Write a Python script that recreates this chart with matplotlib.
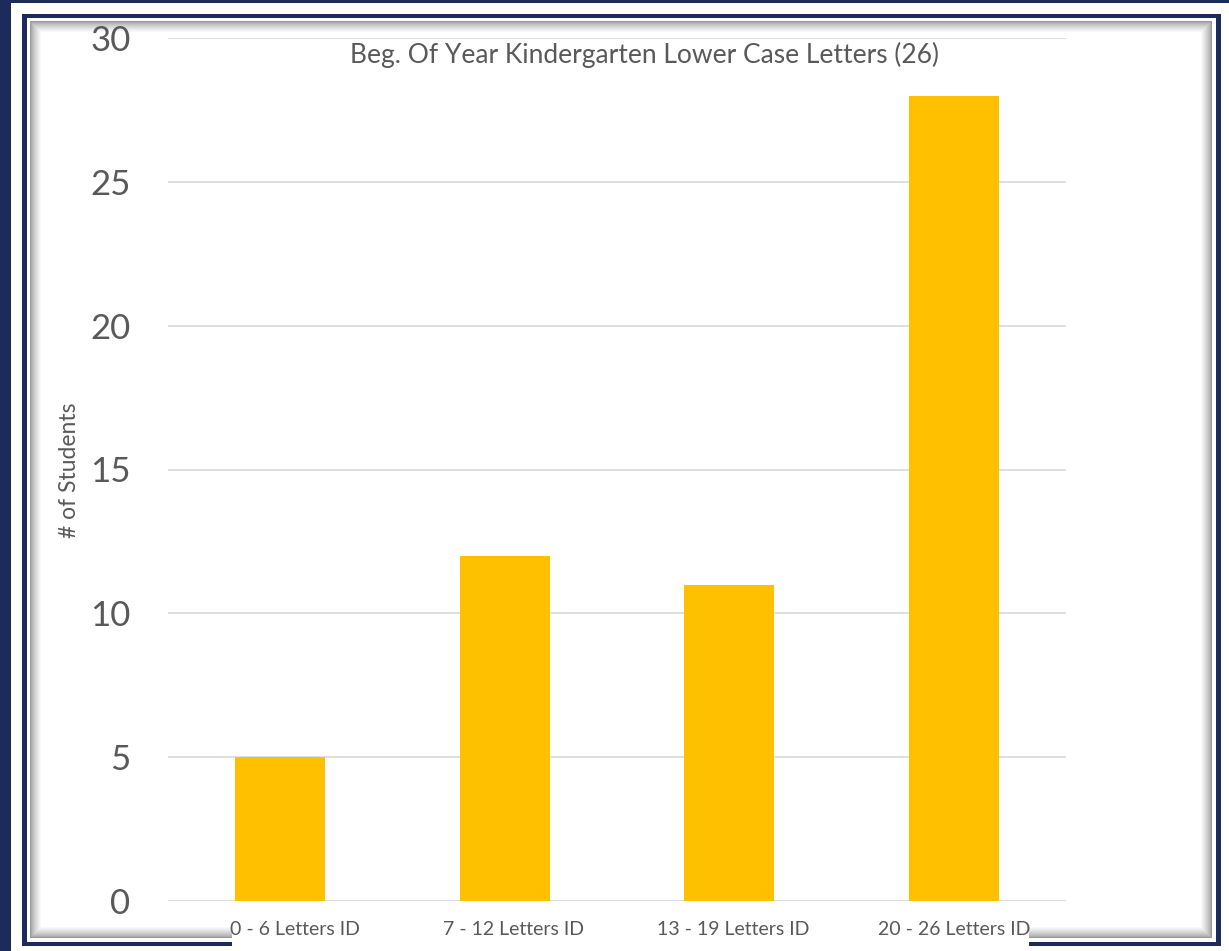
import matplotlib
matplotlib.use("Agg")
import matplotlib.pyplot as plt
import matplotlib.transforms as mtransforms
from matplotlib.patches import Rectangle

# data
categories = ["0 - 6 Letters ID", "7 - 12 Letters ID", "13 - 19 Letters ID", "20 - 26 Letters ID"]
students = [5, 12, 11, 28]
y_ticks = [0, 5, 10, 15, 20, 25, 30]

W, H = 1229, 951
navy = "#1b2c5c"
txt = "#595959"

plt.rcParams["font.family"] = ["Lato", "DejaVu Sans"]

fig = plt.figure(figsize=(W / 100, H / 100), dpi=100)
fig.patch.set_facecolor("white")


def px_rect(x0, y0, x1, y1, z, **kw):
    # rectangle in pixel coords, y measured from top
    r = Rectangle((x0 / W, 1 - y1 / H), (x1 - x0) / W, (y1 - y0) / H,
                  transform=fig.transFigure, zorder=z, **kw)
    fig.add_artist(r)
    return r


# outer frame
px_rect(0, 0, 11, H, -5, facecolor=navy, edgecolor="none")
px_rect(0, 0, W, 3, -5, facecolor=navy, edgecolor="none")
px_rect(22, 14, 1221, 946, -5, facecolor=navy, edgecolor="none")
px_rect(27, 18, 1216, 942, -5, facecolor="white", edgecolor="none")

# inner bevel shadow
for i in range(12):
    g = 0.6 + 0.4 * (i / 11) ** 0.7
    px_rect(30 + i, 21 + i, 1212 - i, 938 - i, -5, facecolor=(g, g, g), edgecolor="none")
px_rect(42, 33, 1200, 926, -5, facecolor="white", edgecolor="none")

# white band behind category labels
px_rect(232, 912, 1029, H, -4, facecolor="white", edgecolor="none")

ax = fig.add_axes([168 / W, 1 - 901 / H, (1066 - 168) / W, (901 - 38) / H])
ax.set_facecolor("none")
x = range(len(categories))
ax.bar(x, students, width=0.4, color="#ffc000", zorder=3)
ax.set_xlim(-0.5, len(categories) - 0.5)
ax.set_ylim(0, 30)
ax.set_yticks(y_ticks)
ax.set_yticklabels([str(v) for v in y_ticks], fontsize=25, color=txt)
ax.set_xticks(list(x))
ax.set_xticklabels(categories, fontsize=14, color=txt)
ax.tick_params(axis="y", length=0, pad=27)
ax.tick_params(axis="x", length=0, pad=14.5)
ax.grid(axis="y", color="#d9d9d9", linewidth=1.2, zorder=0)
for s in ax.spines.values():
    s.set_visible(False)

# labels sit a bit right of the bars in the original
shifts = [15, 9, 4, 0]
for lab, dx in zip(ax.get_xticklabels(), shifts):
    off = mtransforms.ScaledTranslation(dx / 100, 0, fig.dpi_scale_trans)
    lab.set_transform(lab.get_transform() + off)

fig.text(70 / W, 1 - 470 / H, "# of Students", rotation=90, fontsize=16.5,
         color=txt, ha="center", va="center")
fig.text(645 / W, 1 - 55 / H, "Beg. Of Year Kindergarten Lower Case Letters (26)",
         fontsize=19, color=txt, ha="center", va="center")

fig.savefig("out.png", dpi=100, facecolor="white")
